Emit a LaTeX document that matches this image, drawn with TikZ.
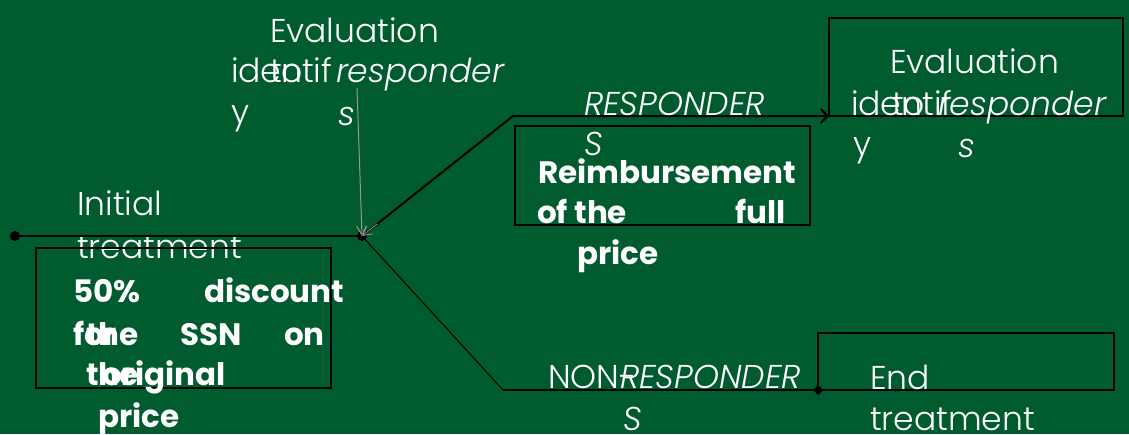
\documentclass[tikz,border=0pt]{standalone}
\usepackage{fontspec}
\IfFontExistsTF{Poppins Light}
  {\setmainfont{Poppins Light}[BoldFont=Poppins Bold,ItalicFont=Poppins Light Italic]}
  {\setmainfont{Poppins}}
\usetikzlibrary{arrows.meta,calc}
\definecolor{slidegreen}{RGB}{0,91,47}
\definecolor{tipgray}{RGB}{150,150,150}

\begin{document}
\begin{tikzpicture}[x=1pt,y=-1pt,
        every node/.style={inner sep=0pt,outer sep=0pt,anchor=base west,text=white},
        txt/.style={font=\fontsize{33}{39}\selectfont},
        itxt/.style={font=\fontsize{33}{39}\selectfont\itshape},
        btxt/.style={font=\fontsize{31}{37}\selectfont\bfseries},
        box/.style={draw=black,line width=2pt},
        wire/.style={draw=black,line width=2pt},
        thinwire/.style={draw=black,line width=1pt}]

    \fill[slidegreen] (0,0) rectangle (1129,434);
    \useasboundingbox (0,0) rectangle (1129,434);

    % points of the flow
    \coordinate (start) at (15,236);
    \coordinate (split) at (362,236);
    \coordinate (evaltop) at (357,88);
    \coordinate (upbend) at (513,116);
    \coordinate (upend) at (829,116);
    \coordinate (lowbend) at (503,390);
    \coordinate (lowend) at (818,390);

    % initial treatment
    \node[txt] (initA) at (77,215) {Initial};
    \node[txt] (initB) at (77,258) {treatment};

    % boxes
    \draw[box] (36,248) rectangle (331,388);
    \draw[box] (515,126) rectangle (810,225);
    \draw[box] (829,18) rectangle (1123,116);
    \draw[box] (818,333) rectangle (1114,390);

    % lines
    \draw[wire] (start) -- (split);
    \fill (start) circle (5pt);
    \fill (split) circle (5pt);
    \draw[tipgray,line width=1pt,-{Straight Barb[length=9pt,width=10pt]}] (evaltop) -- (split);
    \draw[wire,-{Straight Barb[length=7pt,width=14pt]}] (split) -- (upbend) -- (upend);
    \draw[tipgray,line width=0.8pt,-{Straight Barb[length=9pt,width=10pt]}] ($(split)!0.1!(upbend)$) -- (split);
    \draw[thinwire] (split) -- (lowbend);
    \draw[wire,line width=1.5pt] (lowbend) -- (lowend);
    \fill (lowend) ++(0,-5) -- ++(5,5) -- ++(-5,5) -- ++(-5,-5) -- cycle;

    % evaluation, left
    \node[txt] (evalA) at (270,42) {Evaluation};
    \node[txt] (idA) at (231,82) {identif};
    \node[txt] (toA) at (270,82) {to};
    \node[itxt] (respA) at (336,82) {responder};
    \node[txt] (yA) at (231,123) {y};
    \node[itxt] (sA) at (338,125) {s};

    % first box
    \node[btxt] (discA) at (73,302) {50\%};
    \node[btxt] (discB) at (204,302) {discount};
    \node[btxt] (discC) at (73,345) {for};
    \node[btxt] (discD) at (86,345) {the};
    \node[btxt] (discE) at (180,345) {SSN};
    \node[btxt] (discF) at (284,345) {on};
    \node[btxt] (discG) at (86,385) {the};
    \node[btxt] (discH) at (102,385) {original};
    \node[btxt] (discI) at (98,427) {price};

    % responders
    \node[itxt] (respB) at (584,115) {RESPONDER};
    \node[itxt] (respC) at (584,155) {S};
    \node[btxt] (reimbA) at (538,183) {Reimbursement};
    \node[btxt] (reimbB) at (537,223) {of the};
    \node[btxt] (reimbC) at (735,223) {full};
    \node[btxt] (reimbD) at (577,264) {price};

    % evaluation, right
    \node[txt] (evalB) at (890,73) {Evaluation};
    \node[txt] (idB) at (851,115) {identif};
    \node[txt] (toB) at (892,115) {to};
    \node[itxt] (respD) at (938,115) {responder};
    \node[txt] (yB) at (853,155) {y};
    \node[itxt] (sB) at (958,157) {s};

    % non responders
    \node[txt] (nonA) at (548,388) {NON-};
    \node[itxt] (nonB) at (620,388) {RESPONDER};
    \node[itxt] (nonC) at (623,430) {S};
    \node[txt] (endA) at (870,389) {End};
    \node[txt] (endB) at (870,430) {treatment};
\end{tikzpicture}
\end{document}
